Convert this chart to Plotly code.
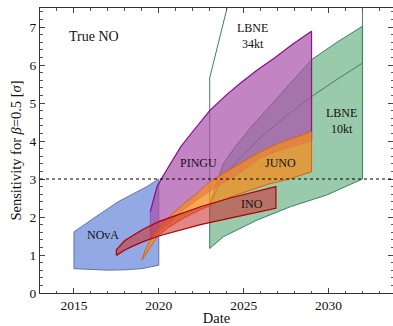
import plotly.graph_objects as go

# ---------------- data ----------------
nova_up_x = [2015, 2015.85, 2016.5, 2017.6, 2018.5, 2019.3, 2020]
nova_up_y = [1.61, 1.87, 2.07, 2.40, 2.62, 2.80, 3.00]
nova_lo_x = [2015, 2016, 2017, 2018, 2019, 2020]
nova_lo_y = [0.64, 0.62, 0.60, 0.61, 0.64, 0.73]

lbne10_lo_x = [2023, 2023.8, 2025.8, 2027.75, 2029.9, 2032]
lbne10_lo_y = [1.17, 1.48, 1.92, 2.27, 2.58, 3.00]
lbne10_up_x = [2023, 2023.4, 2023.8, 2024.5, 2025.5, 2026.5, 2027.5, 2029, 2030.5, 2032]
lbne10_up_y = [2.30, 2.90, 3.40, 3.85, 4.40, 4.90, 5.40, 6.14, 6.60, 7.02]

lbne34_lo_x = [2023, 2023.8, 2024.8, 2026, 2027.5, 2029, 2030.5, 2032]
lbne34_lo_y = [2.30, 3.10, 3.55, 4.10, 4.65, 5.17, 5.62, 6.05]
lbne34_up_x = [2023, 2024.3]
lbne34_up_y = [5.66, 8.00]
lbne34_right_top = 8.5

pingu_up_x = [2019.5, 2019.7, 2019.9, 2020.3, 2020.7, 2021.3, 2022, 2023, 2023.9, 2024.8, 2025.8, 2026.8, 2027.9, 2029]
pingu_up_y = [2.14, 2.50, 2.80, 3.12, 3.41, 3.85, 4.25, 4.80, 5.18, 5.52, 5.87, 6.18, 6.55, 6.89]
pingu_lo_x = [2019.5, 2020.5, 2021.5, 2022.5, 2023.5, 2024.5, 2025.5, 2026, 2027, 2028, 2029]
pingu_lo_y = [1.40, 1.80, 2.20, 2.52, 2.82, 3.08, 3.38, 3.55, 3.74, 3.88, 4.00]

juno_up_x = [2019.0, 2019.2, 2019.7, 2020.5, 2021.5, 2022.35, 2023, 2024, 2025, 2026, 2027, 2028, 2029]
juno_up_y = [0.86, 1.13, 1.57, 1.96, 2.36, 2.66, 2.93, 3.20, 3.47, 3.72, 3.93, 4.10, 4.25]
juno_lo_x = [2019.0, 2019.5, 2019.9, 2020.5, 2021.5, 2022.5, 2023.5, 2024.5, 2025.5, 2026.5, 2027.7, 2029]
juno_lo_y = [0.86, 1.21, 1.48, 1.70, 1.98, 2.20, 2.40, 2.57, 2.72, 2.87, 3.00, 3.19]

ino_up_x = [2017.5, 2018, 2018.5, 2019, 2020, 2021, 2022.45, 2024.2, 2026.9]
ino_up_y = [1.14, 1.38, 1.53, 1.66, 1.88, 2.05, 2.27, 2.50, 2.80]
ino_lo_x = [2017.5, 2018, 2018.5, 2019, 2020, 2021, 2022.45, 2024.2, 2026.9]
ino_lo_y = [0.99, 1.13, 1.24, 1.34, 1.50, 1.63, 1.80, 1.97, 2.23]

labels = ["True NO", "LBNE<br>34kt", "LBNE<br>10kt", "PINGU", "JUNO", "INO", "NOvA"]
label_x = [2016.2, 2025.5, 2030.75, 2022.35, 2027.15, 2025.5, 2016.7]
label_y = [6.75, 6.77, 4.53, 3.41, 3.41, 2.34, 1.52]
label_size = [14, 12, 12, 12, 12, 12, 12]

x_range = [2013, 2033.8]
y_range = [0, 7.5]
threshold = 3.0

FONT = "Liberation Serif"


def band(xu, yu, xl, yl):
    xs = list(xl) + list(xu[::-1]) + [xl[0]]
    ys = list(yl) + list(yu[::-1]) + [yl[0]]
    return xs, ys


fig = go.Figure()

# NOvA
bx, by = band(nova_up_x, nova_up_y, nova_lo_x, nova_lo_y)
fig.add_trace(go.Scatter(x=bx, y=by, fill="toself", mode="lines",
                         fillcolor="rgba(110,140,220,0.75)",
                         line=dict(color="rgba(90,110,160,0.9)", width=1)))

# LBNE 10kt (filled)
bx, by = band(lbne10_up_x, lbne10_up_y, lbne10_lo_x, lbne10_lo_y)
fig.add_trace(go.Scatter(x=bx, y=by, fill="toself", mode="lines",
                         fillcolor="rgba(110,180,135,0.7)",
                         line=dict(color="rgb(60,130,90)", width=1)))

# LBNE 34kt (outline only)
l34x = [lbne34_lo_x[-1], lbne34_lo_x[-1]] + lbne34_lo_x[::-1][1:] + lbne34_up_x
l34y = [lbne34_right_top, lbne34_lo_y[-1]] + lbne34_lo_y[::-1][1:] + lbne34_up_y
fig.add_trace(go.Scatter(x=l34x, y=l34y, mode="lines",
                         line=dict(color="rgb(60,130,90)", width=1)))

# PINGU
bx, by = band(pingu_up_x, pingu_up_y, pingu_lo_x, pingu_lo_y)
fig.add_trace(go.Scatter(x=bx, y=by, fill="toself", mode="lines",
                         fillcolor="rgba(170,80,170,0.7)",
                         line=dict(color="rgba(140,30,140,0.6)", width=0.8)))
fig.add_trace(go.Scatter(x=pingu_up_x + [pingu_up_x[-1], pingu_lo_x[-1]],
                         y=pingu_up_y + [pingu_up_y[-1], pingu_lo_y[-1]],
                         mode="lines", line=dict(color="rgb(140,20,140)", width=1.2)))

# JUNO
bx, by = band(juno_up_x, juno_up_y, juno_lo_x, juno_lo_y)
fig.add_trace(go.Scatter(x=bx, y=by, fill="toself", mode="lines",
                         fillcolor="rgba(245,140,30,0.75)",
                         line=dict(color="rgb(210,100,20)", width=1)))

# INO
bx, by = band(ino_up_x, ino_up_y, ino_lo_x, ino_lo_y)
fig.add_trace(go.Scatter(x=bx, y=by, fill="toself", mode="lines",
                         fillcolor="rgba(205,55,55,0.6)",
                         line=dict(color="rgb(170,0,0)", width=1.2)))

for t, x, y, s in zip(labels, label_x, label_y, label_size):
    fig.add_annotation(x=x, y=y, text=t, showarrow=False,
                       font=dict(family=FONT, size=s, color="#111"))

fig.add_shape(type="line", xref="paper", x0=0, x1=1, yref="y", y0=threshold, y1=threshold,
              line=dict(color="black", width=1, dash="dot"))

axis_common = dict(showline=True, linecolor="#333", linewidth=1, mirror="ticks",
                   ticks="inside", tickcolor="#444", showgrid=False, zeroline=False,
                   tickfont=dict(family=FONT, size=13.5, color="#111"))

fig.update_xaxes(range=x_range, tickvals=[2015, 2020, 2025, 2030], ticklen=5,
                 minor=dict(ticks="inside", ticklen=2.5, dtick=1, tick0=2013, tickcolor="#555"),
                 title=dict(text="Date", font=dict(family=FONT, size=14.5, color="#111"), standoff=2),
                 **axis_common)
fig.update_yaxes(range=y_range, dtick=1, tick0=0, ticklen=5,
                 minor=dict(ticks="inside", ticklen=2.5, dtick=0.2, tick0=0, tickcolor="#555"),
                 title=dict(text="Sensitivity for <i>β</i>=0.5 [<i>σ</i>]",
                            font=dict(family=FONT, size=14.5, color="#111"), standoff=4),
                 **axis_common)

fig.update_layout(width=393, height=326, showlegend=False,
                  margin=dict(l=40, r=0, t=8, b=33),
                  plot_bgcolor="white", paper_bgcolor="white",
                  font=dict(family=FONT))

fig.write_html("out.html", config={"displayModeBar": False},
               post_script="document.body.style.margin='0px';document.body.style.overflow='hidden';")
